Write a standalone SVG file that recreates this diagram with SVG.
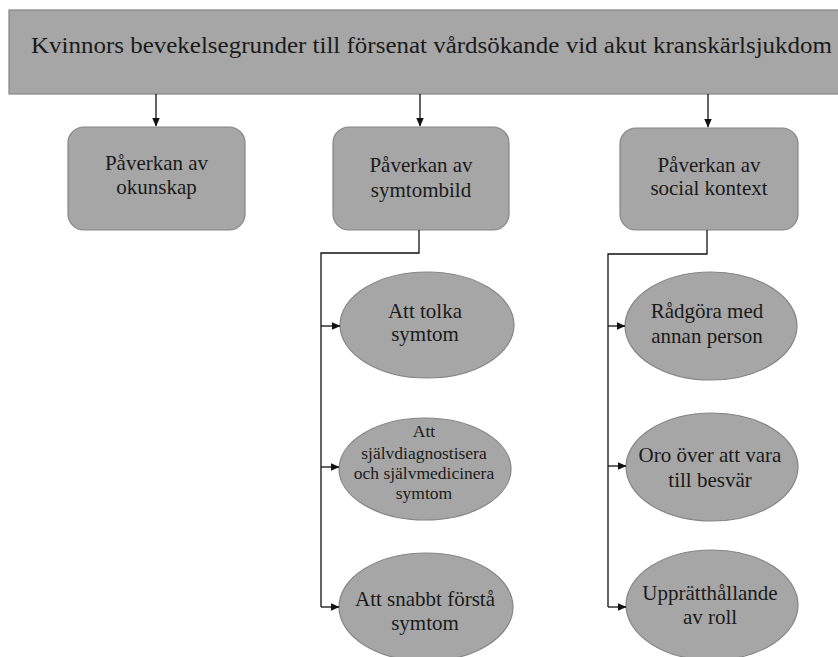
<svg xmlns="http://www.w3.org/2000/svg" width="838" height="657" viewBox="0 0 838 657">
<defs>
<style>
.node{fill:#a6a6a6;stroke:#858585;stroke-width:1.2}
text{font-family:'Liberation Serif','Tinos','Times New Roman','DejaVu Serif',serif;fill:#1a1a1a;text-anchor:middle;font-size:21px}
.ts{font-size:17.5px}
.c{fill:none;stroke:#111;stroke-width:1.3}
</style>
<marker id="ah" markerWidth="9" markerHeight="8" refX="8.5" refY="4" orient="auto" markerUnits="userSpaceOnUse">
<path d="M0,0 L9,4 L0,8 Z" fill="#111"/>
</marker>
</defs>
<rect width="838" height="657" fill="#fff"/>
<g id="title">
<rect class="node" x="9" y="10" width="840" height="84"/>
<text x="31" y="53" style="text-anchor:start;font-size:24px" textLength="801" lengthAdjust="spacingAndGlyphs">Kvinnors bevekelsegrunder till försenat vårdsökande vid akut kranskärlsjukdom</text>
</g>
<g id="box1">
<rect class="node" x="68" y="127" width="177" height="103" rx="16"/>
<text x="156.5" y="170">Påverkan av</text>
<text x="156.5" y="194">okunskap</text>
</g>
<g id="box2">
<rect class="node" x="333" y="127" width="176" height="103" rx="16"/>
<text x="421" y="172">Påverkan av</text>
<text x="421" y="197">symtombild</text>
</g>
<g id="box3">
<rect class="node" x="620" y="128" width="178" height="102" rx="16"/>
<text x="709" y="172">Påverkan av</text>
<text x="709" y="195">social kontext</text>
</g>
<g id="e1">
<ellipse class="node" cx="427" cy="325" rx="87" ry="53"/>
<text x="425" y="318">Att tolka</text>
<text x="425" y="341">symtom</text>
</g>
<g id="e2">
<ellipse class="node" cx="425" cy="469" rx="86" ry="51"/>
<text class="ts" x="424" y="437">Att</text>
<text class="ts" x="424" y="459">självdiagnostisera</text>
<text class="ts" x="424" y="479">och självmedicinera</text>
<text class="ts" x="424" y="499">symtom</text>
</g>
<g id="e3">
<ellipse class="node" cx="426" cy="607" rx="87" ry="54"/>
<text x="425" y="606">Att snabbt förstå</text>
<text x="425" y="630">symtom</text>
</g>
<g id="e4">
<ellipse class="node" cx="711" cy="326" rx="86" ry="54"/>
<text x="707" y="318">Rådgöra med</text>
<text x="707" y="343">annan person</text>
</g>
<g id="e5">
<ellipse class="node" cx="712" cy="467" rx="86" ry="54"/>
<text x="710" y="462">Oro över att vara</text>
<text x="710" y="487">till besvär</text>
</g>
<g id="e6">
<ellipse class="node" cx="712" cy="605" rx="86" ry="55"/>
<text x="710" y="600">Upprätthållande</text>
<text x="710" y="624">av roll</text>
</g>
<g id="connectors">
<path class="c" d="M156,94 V126" marker-end="url(#ah)"/>
<path class="c" d="M420,94 V126" marker-end="url(#ah)"/>
<path class="c" d="M708,94 V127" marker-end="url(#ah)"/>
<path class="c" d="M419,230 V253 H321 V607"/>
<path class="c" d="M321,326 H340" marker-end="url(#ah)"/>
<path class="c" d="M321,467 H339" marker-end="url(#ah)"/>
<path class="c" d="M321,607 H339" marker-end="url(#ah)"/>
<path class="c" d="M707,230 V254 H608 V607"/>
<path class="c" d="M608,326 H625" marker-end="url(#ah)"/>
<path class="c" d="M608,466 H626" marker-end="url(#ah)"/>
<path class="c" d="M608,607 H626" marker-end="url(#ah)"/>
</g>
</svg>
